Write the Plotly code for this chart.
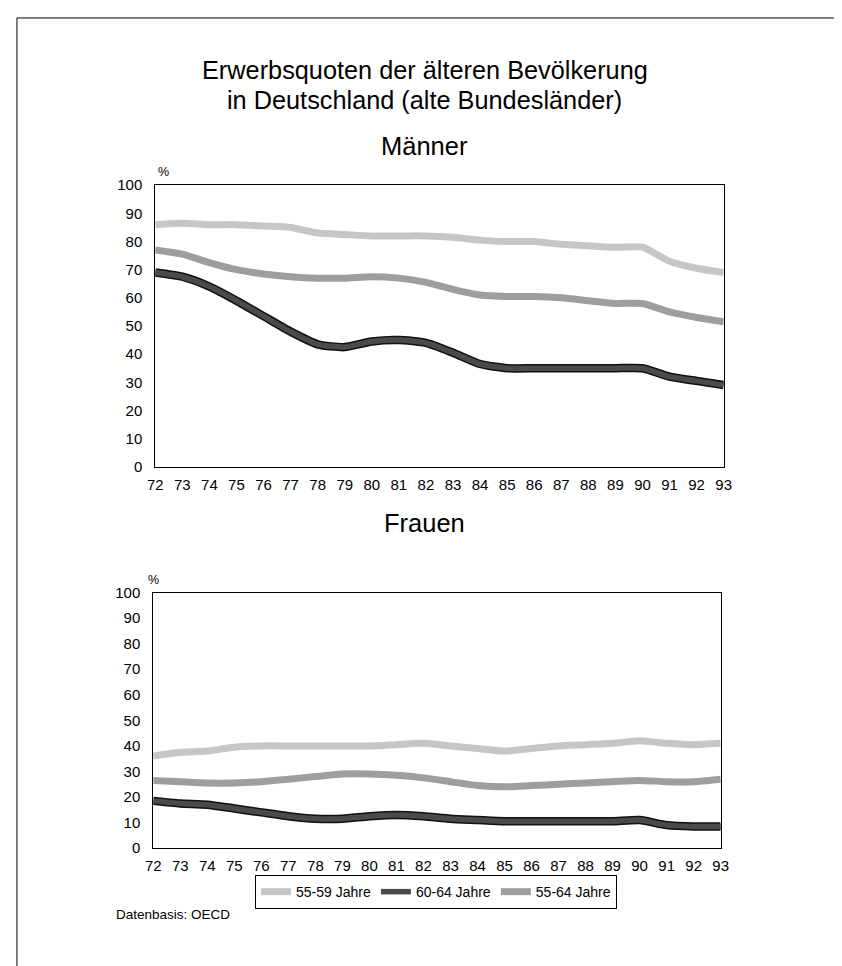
import plotly.graph_objects as go

years = list(range(72, 94))
tick_labels = [str(y) for y in years]
series_names = ["55-59 Jahre", "60-64 Jahre", "55-64 Jahre"]

m_55_59 = [86, 86.5, 86, 86, 85.5, 85, 83, 82.5, 82, 82, 82, 81.5, 80.5, 80, 80, 79, 78.5, 78, 78, 73, 70.5, 69]
m_60_64 = [69, 67.5, 64, 59, 53.5, 48, 43.5, 42.5, 44.5, 45, 44, 40.5, 36.5, 35, 35, 35, 35, 35, 35, 32, 30.5, 29]
m_55_64 = [77, 75.5, 72.5, 70, 68.5, 67.5, 67, 67, 67.5, 67, 65.5, 63, 61, 60.5, 60.5, 60, 59, 58, 58, 55, 53, 51.5]

f_55_59 = [36, 37.5, 38, 39.5, 40, 40, 40, 40, 40, 40.5, 41, 40, 39, 38, 39, 40, 40.5, 41, 42, 41, 40.5, 41]
f_60_64 = [18.5, 17.5, 17, 15.5, 14, 12.5, 11.5, 11.5, 12.5, 13, 12.5, 11.5, 11, 10.5, 10.5, 10.5, 10.5, 10.5, 11, 9, 8.5, 8.5]
f_55_64 = [26.5, 26, 25.5, 25.5, 26, 27, 28, 29, 29, 28.5, 27.5, 26, 24.5, 24, 24.5, 25, 25.5, 26, 26.5, 26, 26, 27]

colors = ["#c6c6c6", "#4a4a4a", "#9e9e9e"]
FONT = "Liberation Sans, Arial, sans-serif"

W, H = 842, 966


def PX(t):
    return ((t - 14.6) / 0.982) / W


def PY(t):
    return 1 - ((t - 14.5) / 0.984) / H


fig = go.Figure()

panels = [
    ("x", "y", [m_55_59, m_60_64, m_55_64], True),
    ("x2", "y2", [f_55_59, f_60_64, f_55_64], False),
]
for xa, ya, data, show in panels:
    for name, vals, col in zip(series_names, data, colors):
        if name == "60-64 Jahre":
            # dark outline under the dark series
            fig.add_trace(go.Scatter(
                x=years, y=vals, name=name, mode="lines",
                line=dict(color="#111111", width=8.5, shape="spline", smoothing=0.6),
                xaxis=xa, yaxis=ya, showlegend=False, cliponaxis=False, hoverinfo="skip",
            ))
            w = 5.5
        else:
            w = 7
        fig.add_trace(go.Scatter(
            x=years, y=vals, name=name, mode="lines",
            line=dict(color=col, width=w, shape="spline", smoothing=0.6),
            xaxis=xa, yaxis=ya, showlegend=show, cliponaxis=False,
        ))

axis_common = dict(
    showline=True, linecolor="black", linewidth=1, mirror=True,
    showgrid=False, zeroline=False,
    tickfont=dict(family=FONT, size=15, color="black"),
    ticks="outside", tickcolor="rgba(0,0,0,0)",
)

fig.update_layout(
    width=W, height=H,
    margin=dict(l=0, r=0, t=0, b=0),
    paper_bgcolor="white", plot_bgcolor="white",
    font=dict(family=FONT, color="black"),
    xaxis=dict(domain=[PX(154), PX(723)], range=[72, 93], tickvals=years, ticktext=tick_labels,
               anchor="y", ticklen=4, **axis_common),
    yaxis=dict(domain=[PY(465), PY(183)], range=[0, 100], dtick=10, anchor="x", ticklen=9, **axis_common),
    xaxis2=dict(domain=[PX(152), PX(720)], range=[72, 93], tickvals=years, ticktext=tick_labels,
                anchor="y2", ticklen=4, **axis_common),
    yaxis2=dict(domain=[PY(847), PY(591)], range=[0, 100], dtick=10, anchor="x2", ticklen=9, **axis_common),
    legend=dict(orientation="h", x=PX(435), xanchor="center", y=PY(891), yanchor="middle",
                bordercolor="black", borderwidth=1, font=dict(family=FONT, size=14),
                itemwidth=30, tracegroupgap=0, bgcolor="white"),
    showlegend=True,
)

ann = [
    dict(text="Erwerbsquoten der älteren Bevölkerung", x=424, y=68, size=25.3),
    dict(text="in Deutschland (alte Bundesländer)", x=424, y=98, size=25.3),
    dict(text="Männer", x=424, y=144, size=25.5),
    dict(text="Frauen", x=424, y=521, size=25.5),
]
for a in ann:
    fig.add_annotation(text=a["text"], x=PX(a["x"]), y=PY(a["y"]), xref="paper", yref="paper",
                       xanchor="center", yanchor="middle", showarrow=False,
                       font=dict(family=FONT, size=a["size"], color="black"))

fig.add_annotation(text="%", x=PX(162), y=PY(170), xref="paper", yref="paper", showarrow=False,
                   xanchor="center", yanchor="middle", font=dict(family=FONT, size=12.5))
fig.add_annotation(text="%", x=PX(152), y=PY(578), xref="paper", yref="paper", showarrow=False,
                   xanchor="center", yanchor="middle", font=dict(family=FONT, size=12.5))
fig.add_annotation(text="Datenbasis: OECD", x=PX(113), y=PY(913), xref="paper", yref="paper",
                   showarrow=False, xanchor="left", yanchor="middle", font=dict(family=FONT, size=13.5))

fig.add_shape(type="rect", xref="paper", yref="paper", x0=1 / W, x1=PX(836), y0=-0.05, y1=1 - 1 / H,
              line=dict(color="black", width=1), fillcolor="rgba(0,0,0,0)", layer="below")

fig.write_html("out.html")
